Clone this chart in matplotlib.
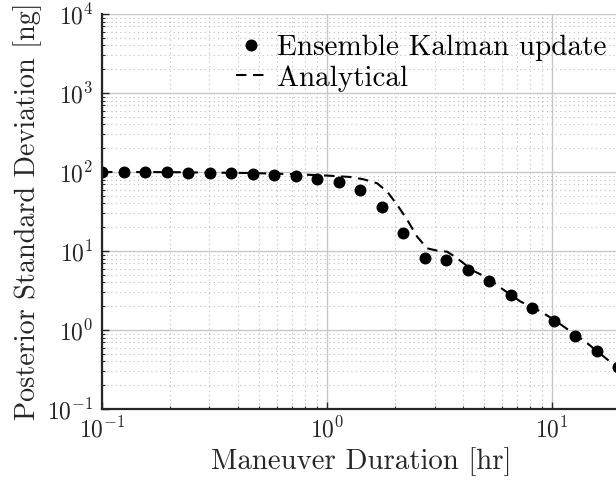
import matplotlib as mpl
import matplotlib.pyplot as plt

# ensemble Kalman update samples
duration = [0.1, 0.1246, 0.1553, 0.1935, 0.2411, 0.3005, 0.3745, 0.4667,
            0.5815, 0.7247, 0.9031, 1.1254, 1.4024, 1.7476, 2.1778, 2.7138,
            3.3819, 4.2144, 5.2518, 6.5446, 8.1557, 10.163, 12.665, 15.783,
            19.668]
ensemble_std = [99, 99, 100, 99, 98, 98, 96.4, 95, 92.4, 88.3, 81.5, 74.5,
                58.9, 36.3, 16.7, 8.1, 7.7, 5.7, 4.17, 2.80, 1.90, 1.30,
                0.83, 0.547, 0.343]

# analytical curve (traced)
t_analytic = [0.1, 0.2, 0.455, 0.7, 1.0, 1.26, 1.445, 1.667, 1.849, 2.05,
              2.27, 2.51, 2.78, 3.08, 3.41, 3.78, 4.46, 5.14, 6.05, 7.21,
              8.85, 10.1, 11.7, 14.3, 19.2, 20.0]
std_analytic = [100, 99.5, 97, 94, 90, 86.5, 81, 72, 56.3, 38.2, 24.7, 15.2,
                10.8, 10.1, 9.8, 8.1, 5.6, 4.6, 3.25, 2.3, 1.72, 1.37, 1.02,
                0.68, 0.345, 0.32]

INK, GRID = "#262626", "#c8c8c8"

mpl.rcParams['font.family'] = 'serif'
mpl.rcParams['font.serif'] = ['cmr10']
mpl.rcParams['mathtext.fontset'] = 'cm'
mpl.rcParams['axes.formatter.use_mathtext'] = True
mpl.rcParams['font.size'] = 21

fig = plt.figure(figsize=(6.16, 4.82), dpi=100)
ax = fig.add_axes([0.1656, 0.1515, 0.8409, 0.8195])

ax.plot(t_analytic, std_analytic, '--', color='black', linewidth=1.5,
        dashes=(5, 3.2), label='Analytical')
ax.plot(duration, ensemble_std, 'o', color='black', markersize=7.6,
        label='Ensemble Kalman update')

ax.set_xscale('log')
ax.set_yscale('log')
ax.set_xlim(0.1, 20)
ax.set_ylim(0.1, 1e4)
ax.set_xticks([0.1, 1, 10])
ax.set_yticks([0.1, 1, 10, 100, 1e3, 1e4])

ax.grid(True, which='major', color=GRID, linewidth=1.0, linestyle='-')
ax.grid(True, which='minor', color='#bdbdbd', linewidth=0.8, linestyle=(0, (1, 3)))
ax.set_axisbelow(True)

ax.tick_params(which='both', direction='in', colors=INK, top=False, right=False)
ax.tick_params(which='major', length=5, width=1.0, labelsize=17, pad=6)
ax.tick_params(which='minor', length=2.5, width=0.8)

for side in ['top', 'right']:
    ax.spines[side].set_visible(False)
for side in ['left', 'bottom']:
    ax.spines[side].set_color(INK)
    ax.spines[side].set_linewidth(1.6)

ax.set_xlabel("Maneuver Duration [hr]", color=INK, labelpad=3, fontsize=20.8)
ax.set_ylabel("Posterior Standard Deviation [ng]", color=INK, labelpad=4, fontsize=20.3)

handles, labels = ax.get_legend_handles_labels()
leg = ax.legend(handles[::-1], labels[::-1], loc='upper right', frameon=False,
                bbox_to_anchor=(1.013, 1.0), handlelength=1.05, handletextpad=0.35,
                labelspacing=0.15, borderaxespad=0.3, fontsize=21)

fig.savefig('out.png', dpi=100)
